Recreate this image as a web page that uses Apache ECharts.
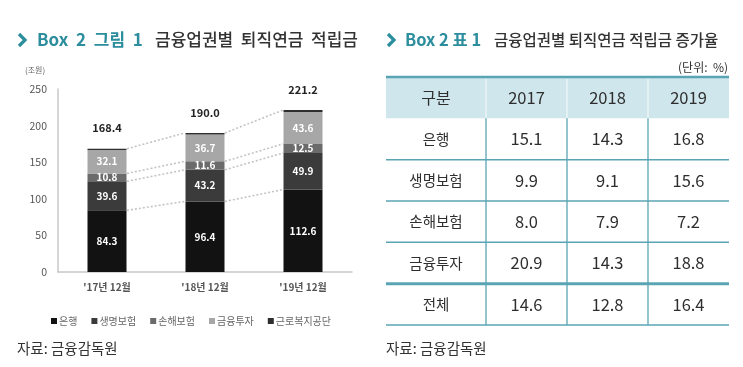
<!DOCTYPE html>
<html><head><meta charset="utf-8">
<script src="https://cdn.jsdelivr.net/npm/echarts@6/dist/echarts.min.js"></script>
<style>html,body{margin:0;padding:0;background:#fff}#c{width:743px;height:367px}</style>
</head><body><div id="c"></div>
<script>
// ---- chart data ----
const categories = ["'17년 12월", "'18년 12월", "'19년 12월"];
const bank = [84.3, 96.4, 112.6];        // 은행
const life = [39.6, 43.2, 49.9];         // 생명보험
const nonlife = [10.8, 11.6, 12.5];      // 손해보험
const invest = [32.1, 36.7, 43.6];       // 금융투자
const kcomwel = [1.6, 2.1, 2.6];         // 근로복지공단
const totals = [168.4, 190.0, 221.2];
const yTicks = [0, 50, 100, 150, 200, 250];

// ---- table data ----
const tableHeader = ['구분', '2017', '2018', '2019'];
const rowLabels = ['은행', '생명보험', '손해보험', '금융투자', '전체'];
const rate2017 = ['15.1', '9.9', '8.0', '20.9', '14.6'];
const rate2018 = ['14.3', '9.1', '7.9', '14.3', '12.8'];
const rate2019 = ['16.8', '15.6', '7.2', '18.8', '16.4'];

const FONT = '"Noto Sans CJK KR", "Noto Sans", sans-serif';
const TEAL = '#2c8d9d';
const LINE = '#5aa5b3';

// connector lines (cumulative tops)
const cum1 = bank.map((v,i)=>v);
const cum2 = bank.map((v,i)=>v+life[i]);
const cum3 = bank.map((v,i)=>v+life[i]+nonlife[i]);
const connData = [];
[cum1, cum2, cum3, totals].forEach(arr=>{
  for (let i=0;i<arr.length-1;i++) connData.push([i, arr[i], arr[i+1]]);
});

// table cell data
const rowKeys = ['구분'].concat(rowLabels);
const labelCells = rowKeys.map((t,r)=>[0, r, t]);
const yearCols = [rate2017, rate2018, rate2019];
const valueCells = [];
yearCols.forEach((col,c)=>{
  valueCells.push([c, 0, tableHeader[c+1]]);
  col.forEach((v,r)=>valueCells.push([c, r+1, v]));
});

function cellRenderer(withLeftEdge){
  const src = withLeftEdge ? valueCells : labelCells;
  return function(params, api){
    const col = api.value(0), row = api.value(1);
    const c = api.coord([col, row]);
    const s = api.size([1, 1]);
    const x0 = c[0]-s[0]/2, y0 = c[1]-s[1]/2, x1 = x0+s[0], y1 = y0+s[1];
    const txt = src[params.dataIndex][2];
    const children = [];
    if (row === 0) {
      children.push({type:'rect', shape:{x:x0, y:y0, width:s[0], height:s[1]}, style:{fill:'#cfe6ec'}});
      children.push({type:'line', shape:{x1:x0, y1:y0, x2:x1, y2:y0}, style:{stroke:LINE, lineWidth:2.5}});
    }
    if (withLeftEdge) {
      children.push({type:'line', shape:{x1:x0, y1:y0+(row===0?2:0), x2:x0, y2:y1}, style:{stroke: row===0 ? '#eef7f9' : LINE, lineWidth:1.3}});
    }
    if (row >= 1) {
      children.push({type:'line', shape:{x1:x0, y1:y1, x2:x1, y2:y1}, style:{stroke:LINE, lineWidth: row===4 ? 3 : 1.5}});
    }
    const fs = withLeftEdge ? 16.5 : (row === 0 ? 16 : 14.5);
    children.push({type:'text', x:c[0], y:c[1], style:{text:txt, fill:'#2e2e2e', fontSize:fs, fontFamily:FONT, align:'center', verticalAlign:'middle'}});
    return {type:'group', children};
  };
}

const chart = echarts.init(document.getElementById('c'), null, {renderer:'canvas'});
const segLabel = {show:true, position:'inside', color:'#fff', fontWeight:'bold', fontSize:10, fontFamily:FONT};
const option = {
  backgroundColor:'#fff',
  animation:false,
  textStyle:{fontFamily:FONT},
  grid:[
    {left:58, top:89, width:294, height:183},
    {left:386, top:77, width:100, height:248},
    {left:486, top:77, width:243, height:248}
  ],
  xAxis:[
    {gridIndex:0, type:'category', data:categories, axisTick:{show:false},
     axisLine:{lineStyle:{color:'#c8c8c8', width:1.5}},
     axisLabel:{color:'#555', fontSize:10, fontWeight:'bold', margin:10, fontFamily:FONT}},
    {gridIndex:1, type:'category', data:[tableHeader[0]], show:false},
    {gridIndex:2, type:'category', data:tableHeader.slice(1), show:false}
  ],
  yAxis:[
    {gridIndex:0, type:'value', min:0, max:250, interval:50,
     axisLine:{show:true, lineStyle:{color:'#c8c8c8', width:1.5}}, axisTick:{show:false},
     splitLine:{show:false},
     axisLabel:{color:'#555', fontSize:10.5, margin:11, fontFamily:FONT,
       formatter:(v)=> yTicks.includes(v) ? String(v) : ''}},
    {gridIndex:1, type:'category', data:rowKeys, inverse:true, show:false},
    {gridIndex:2, type:'category', data:rowKeys, inverse:true, show:false}
  ],
  legend:{
    left:46, top:311, itemWidth:6, itemHeight:6, itemGap:14, icon:'rect',
    textStyle:{color:'#666', fontSize:10, fontFamily:FONT, padding:[0,0,0,-3]},
    data:['은행','생명보험','손해보험','금융투자','근로복지공단']
  },
  series:[
    {name:'은행', type:'bar', stack:'a', data:bank, barWidth:39, itemStyle:{color:'#121212'}, label:segLabel},
    {name:'생명보험', type:'bar', stack:'a', data:life, itemStyle:{color:'#3b3b3b'}, label:segLabel},
    {name:'손해보험', type:'bar', stack:'a', data:nonlife, itemStyle:{color:'#6b6b6b'}, label:segLabel},
    {name:'금융투자', type:'bar', stack:'a', data:invest, itemStyle:{color:'#a7a7a7'}, label:segLabel},
    {name:'근로복지공단', type:'bar', stack:'a', data:kcomwel, itemStyle:{color:'#2e2e2e'},
     label:{show:true, position:'top', distance:15, color:'#222', fontWeight:'bold', fontSize:11, fontFamily:FONT,
       formatter:(p)=>totals[p.dataIndex].toFixed(1)}},
    {type:'custom', xAxisIndex:0, yAxisIndex:0, data:connData, silent:true, z:1,
     encode:{x:0, y:[1,2]},
     renderItem:(params, api)=>{
       const i = api.value(0);
       const p1 = api.coord([i, api.value(1)]);
       const p2 = api.coord([i+1, api.value(2)]);
       return {type:'line', shape:{x1:p1[0]+20, y1:p1[1], x2:p2[0]-20, y2:p2[1]},
         style:{stroke:'#c4c4c4', lineWidth:1.6, lineDash:[2,2]}};
     }},
    {type:'custom', xAxisIndex:1, yAxisIndex:1, data:labelCells, silent:true,
     encode:{x:0, y:1}, renderItem:cellRenderer(false)},
    {type:'custom', xAxisIndex:2, yAxisIndex:2, data:valueCells, silent:true,
     encode:{x:0, y:1}, renderItem:cellRenderer(true)}
  ],
  graphic:[
    {type:'polyline', shape:{points:[[19,34],[25,40],[19,46]]}, style:{stroke:TEAL, lineWidth:3.2, fill:null}},
    {type:'text', x:37, y:40, style:{text:'Box  2  그림  1', fontSize:17, fontWeight:'bold', fill:TEAL, fontFamily:FONT, verticalAlign:'middle'}},
    {type:'text', x:155, y:40, style:{text:'금융업권별  퇴직연금  적립금', fontSize:17, fontWeight:500, fill:'#333', fontFamily:FONT, verticalAlign:'middle'}},
    {type:'text', x:25, y:70, style:{text:'(조원)', fontSize:8, fill:'#666', fontFamily:FONT, verticalAlign:'middle'}},
    {type:'text', x:17, y:348, style:{text:'자료: 금융감독원', fontSize:14.5, fill:'#333', fontFamily:FONT, verticalAlign:'middle'}},
    {type:'polyline', shape:{points:[[388,34],[394,40],[388,46]]}, style:{stroke:TEAL, lineWidth:3.2, fill:null}},
    {type:'text', x:405, y:40, style:{text:'Box 2 표 1', fontSize:16.5, fontWeight:'bold', fill:TEAL, fontFamily:FONT, verticalAlign:'middle'}},
    {type:'text', x:494, y:40, style:{text:'금융업권별 퇴직연금 적립금 증가율', fontSize:15.5, fontWeight:500, fill:'#333', fontFamily:FONT, verticalAlign:'middle'}},
    {type:'text', x:728, y:67, style:{text:'(단위:  %)', fontSize:12, fill:'#333', fontFamily:FONT, align:'right', verticalAlign:'middle'}},
    {type:'text', x:386, y:348, style:{text:'자료: 금융감독원', fontSize:14.5, fill:'#333', fontFamily:FONT, verticalAlign:'middle'}}
  ]
};
chart.setOption(option);
</script>
</body></html>
